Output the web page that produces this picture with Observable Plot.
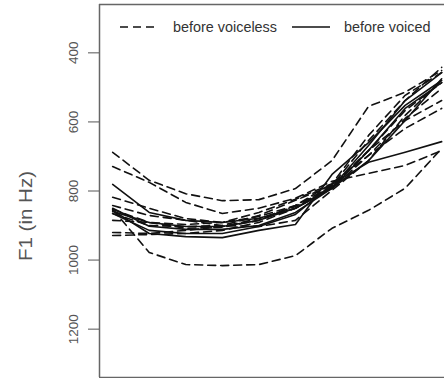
<!DOCTYPE html>
<html><head><meta charset="utf-8">
<script src="https://cdn.jsdelivr.net/npm/d3@7"></script>
<script src="https://cdn.jsdelivr.net/npm/@observablehq/plot@0.6"></script>
<style>
html,body{margin:0;padding:0;background:#fff;overflow:hidden}
#wrap{position:relative;width:444px;height:378px;font-family:"Liberation Sans",Arial,sans-serif}
#overlay{position:absolute;left:0;top:0;width:444px;height:378px;pointer-events:none}
</style></head><body>
<div id="wrap"><div id="chart"></div><svg id="overlay" width="444" height="378"></svg></div>
<script>
// normalized time points (10 measurement points across the vowel)
const timePoints = [0, 1, 2, 3, 4, 5, 6, 7, 8, 9];

// F1 (Hz) trajectories, before voiceless consonants (dashed)
const voiceless1 = [688, 769, 808, 828, 825, 793, 712, 555, 514, 451];
const voiceless2 = [729, 775, 833, 865, 850, 821, 772, 749, 726, 683];
const voiceless3 = [853, 978, 1013, 1016, 1013, 987, 908, 856, 792, 677];
const voiceless4 = [818, 850, 880, 891, 874, 842, 787, 683, 596, 538];
const voiceless5 = [853, 891, 908, 905, 885, 842, 778, 697, 619, 561];
const voiceless6 = [865, 900, 903, 900, 871, 827, 784, 654, 538, 442];
const voiceless7 = [885, 891, 897, 891, 862, 824, 779, 639, 523, 457];
const voiceless8 = [920, 923, 914, 903, 880, 845, 787, 683, 567, 486];
const voiceless9 = [929, 926, 923, 914, 891, 850, 792, 697, 590, 503];
const voiceless10 = [842, 871, 885, 900, 903, 885, 798, 712, 581, 480];

// F1 (Hz) trajectories, before voiced consonants (solid)
const voiced1 = [781, 862, 885, 891, 879, 850, 792, 712, 596, 475];
const voiced2 = [856, 923, 932, 935, 914, 897, 752, 660, 552, 480];
const voiced3 = [850, 902, 911, 911, 900, 862, 792, 683, 561, 486];
const voiced4 = [865, 914, 923, 923, 903, 868, 781, 717, 688, 657];
const voiced5 = [859, 891, 903, 903, 885, 850, 789, 668, 538, 457];

const legendLabels = ["before voiceless", "before voiced"];
const yTicks = [400, 600, 800, 1000, 1200];
const yLabel = "F1 (in Hz)";
const yDomain = [260, 1340];
const xDomain = [-0.36, 9.077];

const voicelessSeries = [voiceless1, voiceless2, voiceless3, voiceless4, voiceless5,
  voiceless6, voiceless7, voiceless8, voiceless9, voiceless10];
const voicedSeries = [voiced1, voiced2, voiced3, voiced4, voiced5];

const rows = [];
voicelessSeries.forEach((s, k) => s.forEach((v, i) =>
  rows.push({t: timePoints[i], f1: v, id: "vl" + k, group: legendLabels[0]})));
voicedSeries.forEach((s, k) => s.forEach((v, i) =>
  rows.push({t: timePoints[i], f1: v, id: "vd" + k, group: legendLabels[1]})));

const plot = Plot.plot({
  width: 444, height: 378,
  marginLeft: 99, marginRight: 0, marginTop: 4, marginBottom: 1,
  style: {fontFamily: "Liberation Sans, Arial, sans-serif", background: "white", color: "#555"},
  x: {domain: xDomain, axis: null},
  y: {domain: yDomain, reverse: true, axis: null},
  marks: [
    Plot.ruleY([yDomain[0], yDomain[1]], {stroke: "#666", strokeWidth: 1.5}),
    Plot.ruleX([xDomain[0]], {stroke: "#666", strokeWidth: 1.5}),
    Plot.axisY(yTicks, {tickSize: 11, tickRotate: -90, tickPadding: 11, fontSize: 13.5,
      tickFormat: d => String(d), stroke: "#555", fill: "#555", label: null}),
    Plot.line(rows.filter(d => d.group === legendLabels[0]),
      {x: "t", y: "f1", z: "id", stroke: "#111", strokeWidth: 1.6, strokeDasharray: "8,5"}),
    Plot.line(rows.filter(d => d.group === legendLabels[1]),
      {x: "t", y: "f1", z: "id", stroke: "#111", strokeWidth: 1.6})
  ]
});
document.getElementById("chart").appendChild(plot);

const ov = d3.select("#overlay");
// y-axis title
ov.append("text")
  .attr("transform", "translate(32,216) rotate(-90)")
  .attr("text-anchor", "middle")
  .attr("font-size", 19).attr("fill", "#555")
  .attr("font-family", "Liberation Sans, Arial, sans-serif")
  .attr("textLength", 90).attr("lengthAdjust", "spacingAndGlyphs")
  .text(yLabel);

// legend (inside the plot frame, top)
const items = [
  {label: legendLabels[0], x0: 120, x1: 158, tx: 173, dash: "8,5"},
  {label: legendLabels[1], x0: 292, x1: 330, tx: 344, dash: null}
];
items.forEach(it => {
  ov.append("line").attr("x1", it.x0).attr("x2", it.x1).attr("y1", 27).attr("y2", 27)
    .attr("stroke", "#111").attr("stroke-width", 1.6).attr("stroke-dasharray", it.dash);
  ov.append("text").attr("x", it.tx).attr("y", 32).attr("font-size", 14.4)
    .attr("font-family", "Liberation Sans, Arial, sans-serif").attr("fill", "#333").text(it.label);
});
</script>
</body></html>
